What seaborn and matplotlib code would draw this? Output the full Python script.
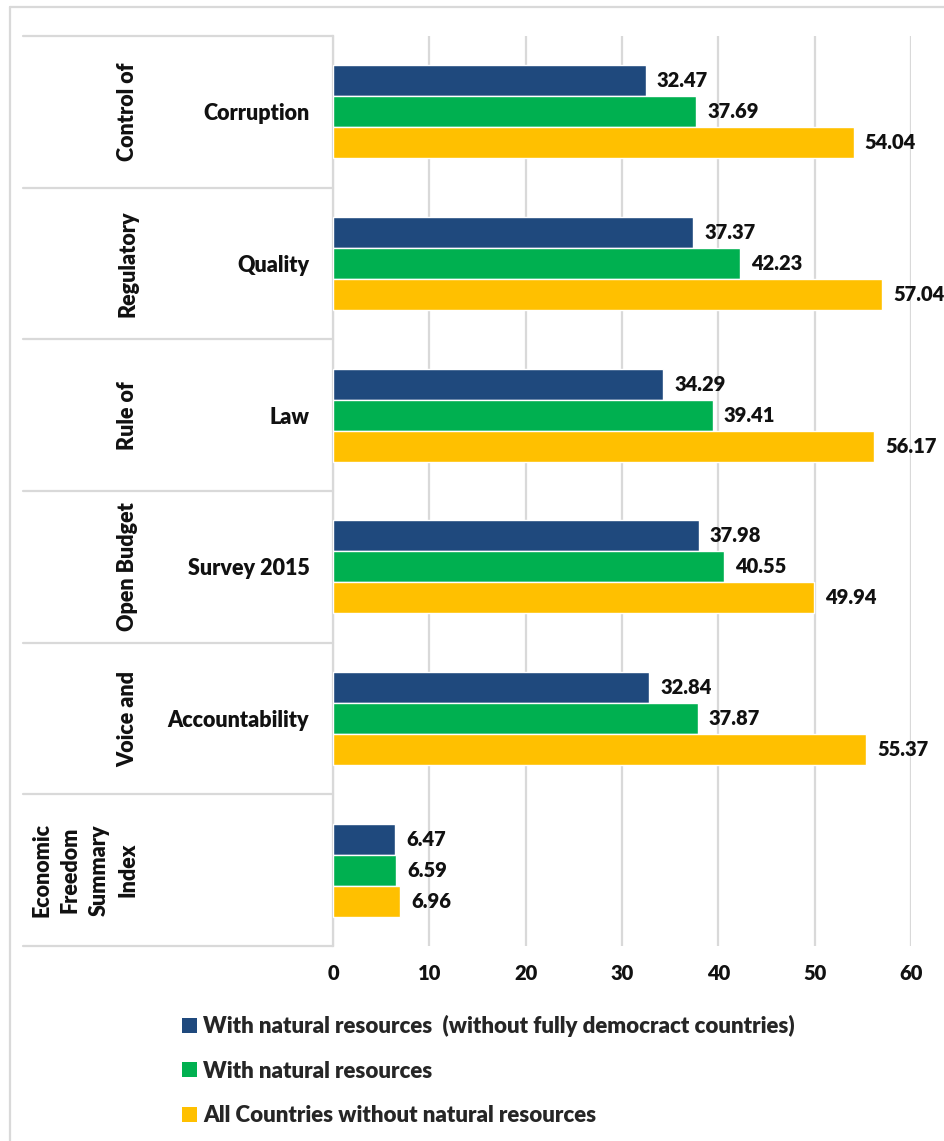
import matplotlib
matplotlib.use("Agg")
import matplotlib.pyplot as plt
from matplotlib.patches import Patch
from matplotlib.lines import Line2D
import pandas as pd
import seaborn as sns

# Indicator groups (outer, rotated) and sub-labels (inner)
outer_labels = ["Control of", "Regulatory", "Rule of", "Open Budget", "Voice and",
                "Economic\nFreedom\nSummary\nIndex"]
inner_labels = ["Corruption", "Quality", "Law", "Survey 2015", "Accountability", ""]
categories = ["Control of Corruption", "Regulatory Quality", "Rule of Law",
              "Open Budget Survey 2015", "Voice and Accountability",
              "Economic Freedom Summary Index"]

series_names = ["With natural resources  (without fully democract countries)",
                "With natural resources",
                "All Countries without natural resources"]
nr_no_democracies = [32.47, 37.37, 34.29, 37.98, 32.84, 6.47]
nr_all = [37.69, 42.23, 39.41, 40.55, 37.87, 6.59]
no_nr = [54.04, 57.04, 56.17, 49.94, 55.37, 6.96]
x_ticks = [0, 10, 20, 30, 40, 50, 60]

colors = ["#1F497D", "#00B050", "#FFC000"]

rows = []
for name, vals in zip(series_names, [nr_no_democracies, nr_all, no_nr]):
    for cat, v in zip(categories, vals):
        rows.append({"category": cat, "series": name, "value": v})
df = pd.DataFrame(rows)

sns.set_theme(style="white")
plt.rcParams["font.family"] = ["Lato", "DejaVu Sans"]
plt.rcParams["font.weight"] = "bold"

TXT = "#111111"
NUM_FS = 14.5
LAB_FS = 15.5

W, H = 944, 1141
fig = plt.figure(figsize=(W / 100, H / 100), dpi=100)
ax_left, ax_right, ax_top, ax_bottom = 333, 911, 36, 946
ax = fig.add_axes([ax_left / W, 1 - ax_bottom / H, (ax_right - ax_left) / W,
                   (ax_bottom - ax_top) / H])

sns.barplot(data=df, y="category", x="value", hue="series", orient="h",
            order=categories, hue_order=series_names, palette=colors,
            width=0.615, saturation=1, ax=ax, legend=False)

for cont in ax.containers:
    ax.bar_label(cont, fmt="%.2f", padding=8, fontsize=NUM_FS,
                 fontweight="heavy", color=TXT)

grid_c = "#D9D9D9"
ax.set_xlim(0, 60)
ax.set_ylim(len(categories) - 0.5, -0.5)
ax.set_xticks(x_ticks)
ax.set_xticklabels([str(t) for t in x_ticks], fontsize=NUM_FS, fontweight="heavy")
ax.set_yticks(range(len(categories)))
ax.set_yticklabels(inner_labels, fontsize=LAB_FS, fontweight="heavy")
ax.tick_params(axis="x", length=0, pad=13, colors=TXT)
ax.tick_params(axis="y", length=0, pad=17, colors=TXT)
ax.xaxis.grid(True, color=grid_c, linewidth=1.6)
ax.set_axisbelow(True)
ax.set_xlabel("")
ax.set_ylabel("")
for s in ["top", "right", "bottom"]:
    ax.spines[s].set_visible(False)
ax.spines["left"].set_color(grid_c)
ax.spines["left"].set_linewidth(1.6)
ax.spines["left"].set_zorder(0.5)

# category separators extending into the label column
x0 = (23 - ax_left) / (ax_right - ax_left)
trans = ax.get_yaxis_transform()
for b in [i - 0.5 for i in range(len(categories) + 1)]:
    ax.add_line(Line2D([x0, 0], [b, b], transform=trans, color=grid_c,
                       linewidth=1.6, clip_on=False))

# outer rotated group labels
for i, lab in enumerate(outer_labels):
    y_disp = ax.transData.transform((0, i))[1]
    fig.text(138 / W, y_disp / H, lab, rotation=90, ha="right", va="center",
             multialignment="center", fontsize=LAB_FS, fontweight="heavy",
             color=TXT, linespacing=1.45)

# legend below the plot
handles = [Patch(facecolor=c, edgecolor="none") for c in colors]
fig.legend(handles, series_names, loc="upper left",
           bbox_to_anchor=(173 / W, 1 - 1006 / H), frameon=False,
           prop={"size": 16, "weight": "heavy"}, handlelength=0.66,
           handleheight=0.66, handletextpad=0.3, labelspacing=1.06,
           borderaxespad=0)

# chart frame (left and top edges)
fig.add_artist(Line2D([10 / W, 10 / W], [0, 1 - 7 / H], color=grid_c,
                      linewidth=1.6, transform=fig.transFigure))
fig.add_artist(Line2D([10 / W, 1], [1 - 7 / H, 1 - 7 / H], color=grid_c,
                      linewidth=1.6, transform=fig.transFigure))

fig.savefig("out.png", dpi=100, facecolor="white")
